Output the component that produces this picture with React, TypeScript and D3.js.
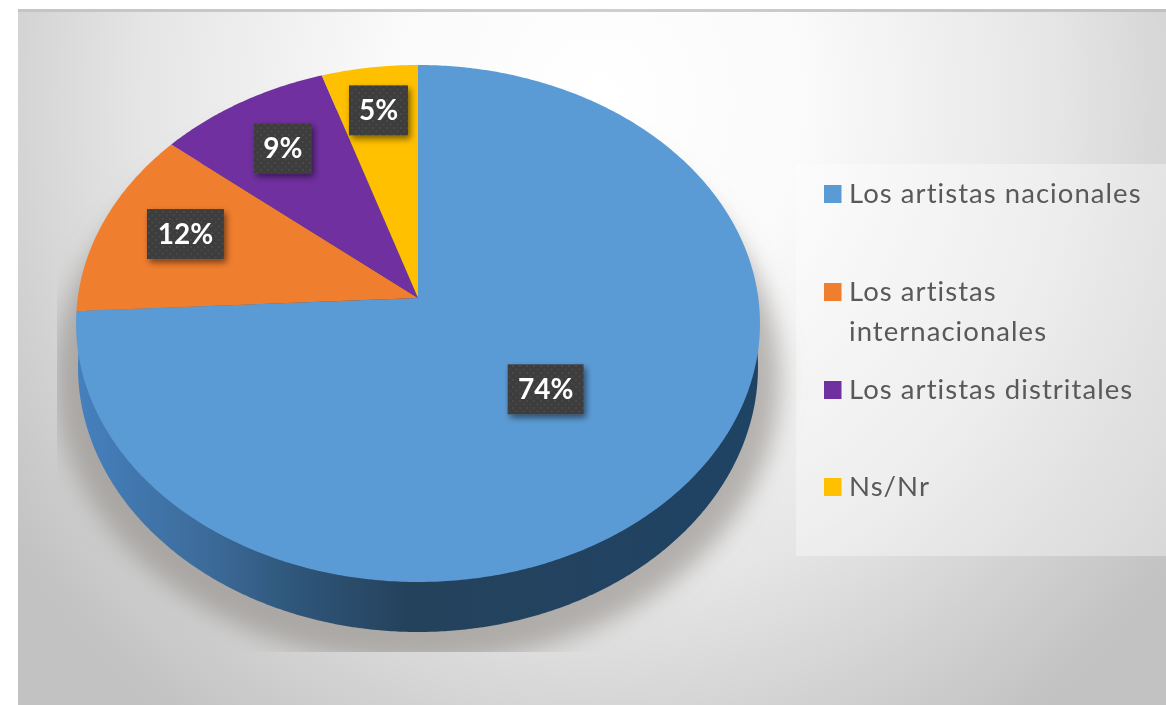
import React from "react";
import * as d3 from "d3";

const categories = ["Los artistas nacionales", "Los artistas internacionales", "Los artistas distritales", "Ns/Nr"];
const shares = [74.2, 11.8, 9, 5];
const sliceColors = ["#5b9bd5", "#f07e2f", "#7030a0", "#ffc000"];
const legendLines = [["Los artistas nacionales"], ["Los artistas", "internacionales"], ["Los artistas distritales"], ["Ns/Nr"]];

// layout
const W = 1166, H = 705;
const CX = 418, APEX_Y = 298, A = 340.3, B = 226.6, PERSP = -0.0986;
const labelRadius = [0.5, 0.746, 0.75, 0.8];
const labelAngleShift = [0, 0.03, 0, 0];
const labelBoxW = [76, 77, 58, 59];
const labelBoxH = 50;
const legendRowTop = [185, 283, 381, 478];

const project = (a: number, r: number): [number, number] => {
  const u = Math.sin(a) * r, v = -Math.cos(a) * r;
  const den = 1 + PERSP * v;
  return [CX + (A * u) / den, (B * v + APEX_Y) / den];
};

const pieGen = d3.pie<number>().sort(null).value((d) => d);
const arcs = pieGen(shares);
const lineGen = d3.line();

const slicePath = (a0: number, a1: number) => {
  const n = Math.max(2, Math.ceil((a1 - a0) / 0.01));
  const angleAt = d3.scaleLinear().domain([0, n]).range([a0, a1]);
  const pts = d3.range(n + 1).map((i) => project(angleAt(i), 1));
  return lineGen([[CX, APEX_Y], ...pts]) + "Z";
};

const ellipsePath = (cx: number, cy: number, rx: number, ry: number) => {
  const t = d3.scaleLinear().domain([0, 720]).range([0, 2 * Math.PI]);
  return lineGen(d3.range(720).map((i) => [cx + rx * Math.cos(t(i)), cy + ry * Math.sin(t(i))] as [number, number])) + "Z";
};

const FONT = "Lato, sans-serif";

export default function App() {
  return (
    <svg width={W} height={H} viewBox={`0 0 ${W} ${H}`} style={{ position: "fixed", left: 0, top: 0, display: "block" }}>
      <defs>
        <radialGradient id="bg" gradientUnits="userSpaceOnUse" cx={0} cy={0} r={1.2}
          gradientTransform="translate(600 100) scale(600 640)">
          <stop offset="0" stopColor="#ffffff" />
          <stop offset="0.29" stopColor="#fafafa" />
          <stop offset="0.63" stopColor="#e6e6e6" />
          <stop offset="0.83" stopColor="#d2d2d2" />
          <stop offset="1" stopColor="#c2c2c2" />
        </radialGradient>
        <linearGradient id="side" gradientUnits="userSpaceOnUse" x1={80} x2={760} y1={0} y2={0}>
          <stop offset="0" stopColor="#4580bd" />
          <stop offset="0.18" stopColor="#3d6c9b" />
          <stop offset="0.33" stopColor="#2e5477" />
          <stop offset="0.48" stopColor="#25425c" />
          <stop offset="1" stopColor="#1f4364" />
        </linearGradient>
        <linearGradient id="topLine" x1={0} x2={1} y1={0} y2={0}>
          <stop offset="0" stopColor="#c4c4c4" />
          <stop offset="0.5" stopColor="#cfcfcf" />
          <stop offset="1" stopColor="#c0c0c0" />
        </linearGradient>
        <filter id="blur" x="-20%" y="-20%" width="140%" height="140%">
          <feGaussianBlur stdDeviation={12} />
        </filter>
        <filter id="boxShadow" x="-30%" y="-30%" width="170%" height="170%">
          <feDropShadow dx={2.5} dy={3.5} stdDeviation={3} floodColor="#000" floodOpacity={0.5} />
        </filter>
        <pattern id="dots" width={7} height={7} patternUnits="userSpaceOnUse">
          <rect width={7} height={7} fill="#3e3e3e" />
          <rect x={1} y={1} width={2} height={2} fill="#4a4a4a" />
          <rect x={4.5} y={4.5} width={2} height={2} fill="#474747" />
        </pattern>
        <clipPath id="shadowClip">
          <rect x={57} y={12} width={W - 57} height={640} />
        </clipPath>
      </defs>

      <rect x={18} y={10} width={W - 18} height={H - 10} fill="url(#bg)" />
      <rect x={18} y={9} width={W - 18} height={3} fill="url(#topLine)" />
      <rect x={796} y={164} width={370} height={392} fill="#ffffff" fillOpacity={0.35} />

      <g clipPath="url(#shadowClip)">
        <path d={ellipsePath(CX, 378, 362, 285)} fill="#8f8a86" fillOpacity={0.62} filter="url(#blur)" />
      </g>
      <path d={ellipsePath(CX, 367, 340, 265)} fill="url(#side)" />

      {arcs.map((d, i) => (
        <path key={categories[i]} d={slicePath(d.startAngle, d.endAngle)} fill={sliceColors[i]} />
      ))}

      {arcs.map((d, i) => {
        const [x, y] = project((d.startAngle + d.endAngle) / 2 + labelAngleShift[i], labelRadius[i]);
        return (
          <g key={`l${i}`}>
            <rect x={x - labelBoxW[i] / 2} y={y - labelBoxH / 2} width={labelBoxW[i]} height={labelBoxH}
              fill="url(#dots)" filter="url(#boxShadow)" />
            <text x={x} y={y + 10} textAnchor="middle" fontFamily={FONT} fontWeight={700} fontSize={28} fill="#ffffff">
              {`${Math.round(d.data)}%`}
            </text>
          </g>
        );
      })}

      {categories.map((c, i) => (
        <g key={c}>
          <rect x={824} y={legendRowTop[i]} width={17.5} height={18} fill={sliceColors[i]} />
          {legendLines[i].map((t, j) => (
            <text key={t} x={849} y={legendRowTop[i] + 18 + j * 40} fontFamily={FONT} fontSize={27.5} letterSpacing={1.05} fill="#595959">
              {t}
            </text>
          ))}
        </g>
      ))}
    </svg>
  );
}
